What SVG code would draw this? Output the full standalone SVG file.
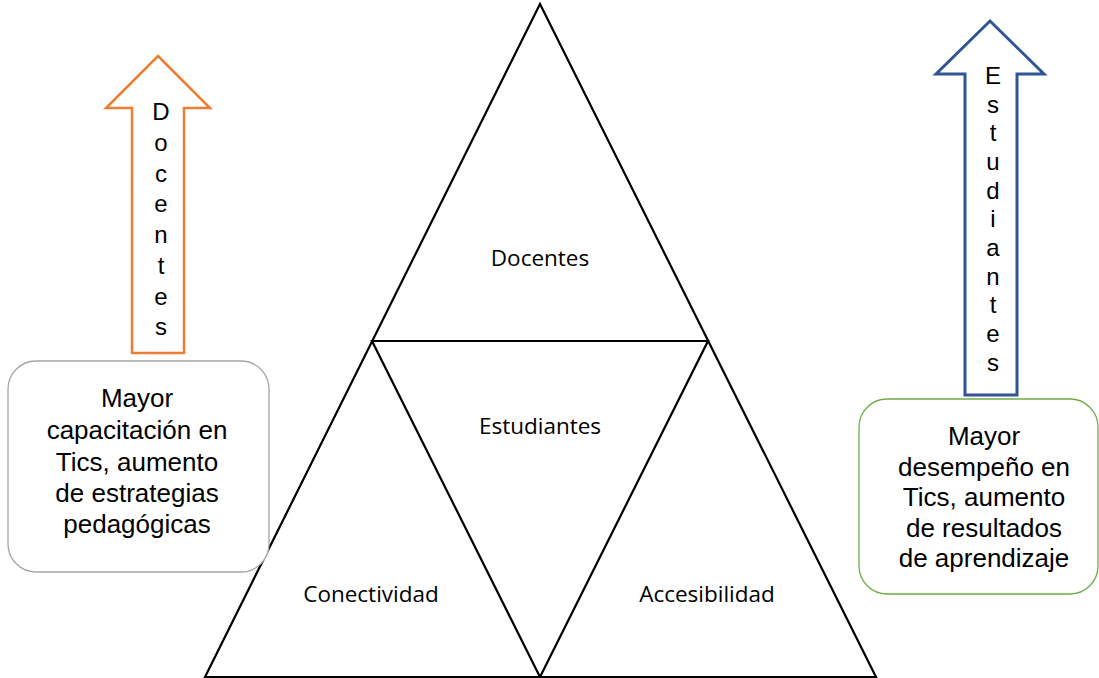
<svg xmlns="http://www.w3.org/2000/svg" width="1099" height="678" viewBox="0 0 1099 678">
<style>
.tri{fill:none;stroke:#000;stroke-width:2.2;stroke-linejoin:miter}
.lbl{font-family:"Open Sans","Noto Sans",sans-serif;font-size:22.5px;fill:#000;text-anchor:middle}
.box{font-family:"Liberation Sans",Arial,sans-serif;font-size:26px;fill:#000;text-anchor:middle}
.vt{font-family:"Liberation Sans",Arial,sans-serif;font-size:24px;fill:#000;text-anchor:middle}
</style>
<rect width="1099" height="678" fill="#fff"/>
<g id="connectors">
<path class="tri" d="M540,4 L205,677 L876,677 Z M372,341 L708,341 L540,677 Z"/>
</g>
<g id="node-docentes"><text class="lbl" x="540" y="266">Docentes</text></g>
<g id="node-estudiantes"><text class="lbl" x="540" y="434">Estudiantes</text></g>
<g id="node-conectividad"><text class="lbl" x="371" y="602">Conectividad</text></g>
<g id="node-accesibilidad"><text class="lbl" x="707" y="602">Accesibilidad</text></g>
<g id="arrow-docentes">
<path d="M158,56 L210,108 L184,108 L184,353 L132,353 L132,108 L106,108 Z" fill="#fff" stroke="#ED7D31" stroke-width="2.5" stroke-linejoin="miter"/>
<text class="vt"><tspan x="161" y="120">D</tspan><tspan x="161" y="151">o</tspan><tspan x="161" y="182">c</tspan><tspan x="161" y="212">e</tspan><tspan x="161" y="243">n</tspan><tspan x="161" y="274">t</tspan><tspan x="161" y="305">e</tspan><tspan x="161" y="335">s</tspan></text>
</g>
<g id="arrow-estudiantes">
<path d="M990,21 L1044,74 L1017,74 L1017,395 L965,395 L965,74 L936,74 Z" fill="#fff" stroke="#2F5597" stroke-width="3" stroke-linejoin="miter"/>
<text class="vt"><tspan x="993" y="84">E</tspan><tspan x="993" y="113">s</tspan><tspan x="993" y="141">t</tspan><tspan x="993" y="170">u</tspan><tspan x="993" y="199">d</tspan><tspan x="993" y="227">i</tspan><tspan x="993" y="256">a</tspan><tspan x="993" y="285">n</tspan><tspan x="993" y="313">t</tspan><tspan x="993" y="342">e</tspan><tspan x="993" y="371">s</tspan></text>
</g>
<g id="box-left">
<rect x="8" y="361" width="261" height="211" rx="28" ry="28" fill="#fff" stroke="#A5A5A5" stroke-width="1.3"/>
<text class="box"><tspan x="137" y="407">Mayor</tspan><tspan x="137" y="439">capacitación en</tspan><tspan x="137" y="471">Tics, aumento</tspan><tspan x="137" y="502">de estrategias</tspan><tspan x="137" y="533">pedagógicas</tspan></text>
</g>
<g id="box-right">
<rect x="859" y="399" width="239" height="195" rx="28" ry="28" fill="#fff" stroke="#70AD47" stroke-width="1.3"/>
<text class="box"><tspan x="984" y="445">Mayor</tspan><tspan x="984" y="476">desempeño en</tspan><tspan x="984" y="506">Tics, aumento</tspan><tspan x="984" y="537">de resultados</tspan><tspan x="984" y="567">de aprendizaje</tspan></text>
</g>
</svg>
